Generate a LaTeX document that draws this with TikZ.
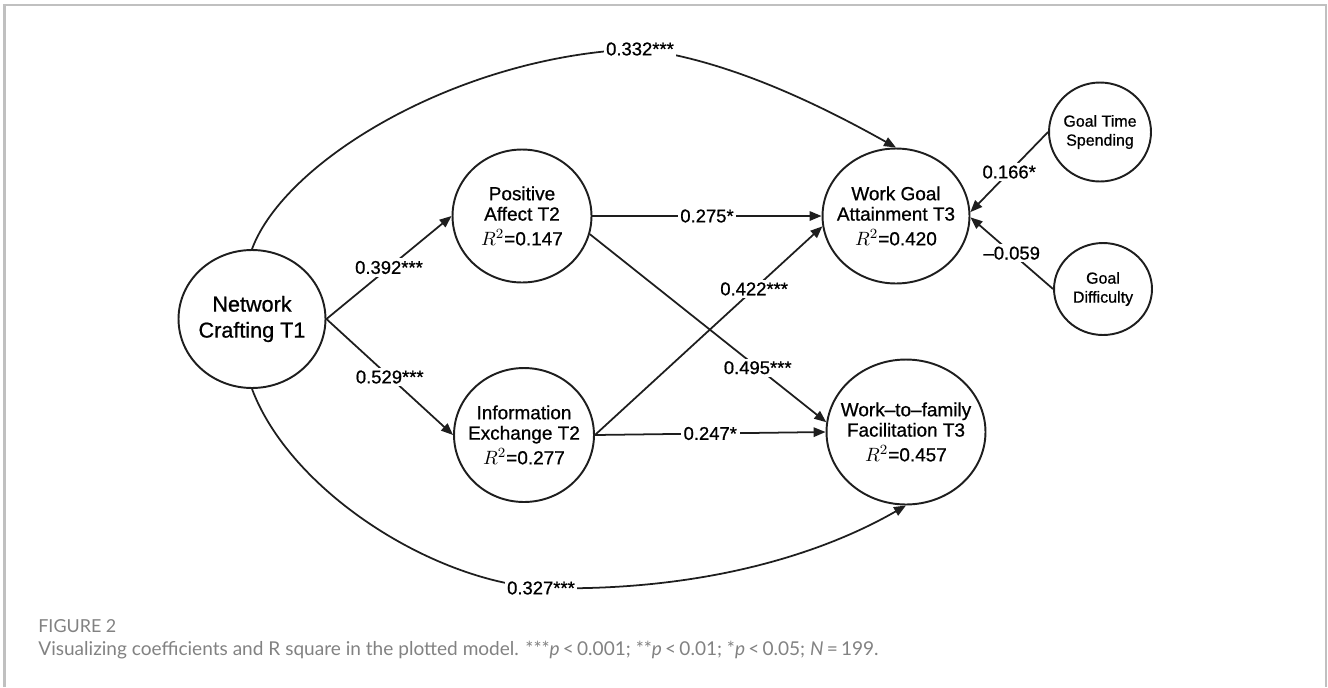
\documentclass[tikz,border=0pt]{standalone}
\usepackage{fontspec}
\setmainfont{Liberation Sans}
\newfontfamily\medfont[FakeBold=0.8, Ligatures=TeX]{Liberation Sans}
\newfontfamily\capfont{Lato}
\usetikzlibrary{arrows.meta, shapes.geometric}
\definecolor{ln}{RGB}{30,30,30}
\definecolor{frm}{RGB}{192,192,192}
\definecolor{capg}{RGB}{130,130,130}
\tikzset{
  var/.style={ellipse, draw=ln, line width=1.1pt, inner sep=0pt},
  % text inside the ellipses
  vtxt/.style={align=center, inner sep=0pt, font=\medfont\fontsize{10.8}{11.6}\selectfont},
  ar/.style={-{Triangle[length=0.24cm, width=0.19cm]}, line width=1pt, draw=ln},
  coef/.style={fill=white, inner sep=1.5pt, font=\medfont\fontsize{10.5}{12}\selectfont},
  frame/.style={draw=frm, line width=1.2pt},
  capt/.style={anchor=base west, inner sep=0pt, text=capg}
}

\begin{document}
\begin{tikzpicture}[x=0.02cm, y=-0.02cm]
  \useasboundingbox (0,0) rectangle (1328,687);
  \draw[frame] (4.5,687) -- (4.5,5) -- (1326,5) -- (1326,687);

  % latent variables
  \node[var, minimum width=2.94cm, minimum height=2.76cm,
        label={[vtxt, font=\medfont\fontsize{12.3}{14.8}\selectfont]center:Network\\Crafting T1}] (nc) at (252,319) {};
  \node[var, minimum width=2.78cm, minimum height=2.66cm,
        label={[vtxt]center:Positive\\Affect T2\\[2.5pt]$R^2$=0.147}] (pa) at (522,216) {};
  \node[var, minimum width=2.80cm, minimum height=2.68cm,
        label={[vtxt]center:Information\\Exchange T2\\[2.5pt]$R^2$=0.277}] (ie) at (524,435) {};
  \node[var, minimum width=2.94cm, minimum height=2.70cm,
        label={[vtxt]center:Work Goal\\Attainment T3\\[2.5pt]$R^2$=0.420}] (wg) at (896,216) {};
  \node[var, minimum width=3.18cm, minimum height=2.90cm,
        label={[vtxt]center:Work--to--family\\Facilitation T3\\[2.5pt]$R^2$=0.457}] (wtf) at (906,432) {};
  \node[var, minimum width=2.04cm, minimum height=1.98cm,
        label={[vtxt, font=\medfont\fontsize{9.1}{10.8}\selectfont]center:Goal Time\\Spending}] (gt) at (1100,132) {};
  \node[var, minimum width=1.96cm, minimum height=1.84cm,
        label={[vtxt, font=\medfont\fontsize{9.1}{10.8}\selectfont]center:Goal\\Difficulty}] (gd) at (1103,289) {};

  % paths
  \draw[ar] (nc.east) -- node[coef] {0.392***} (pa.west);
  \draw[ar] (nc.east) -- node[coef] {0.529***} (ie.west);
  \draw[ar] (pa.east) -- node[coef] {0.275*} (wg.west);
  \draw[ar] (pa.-15) -- node[coef, pos=0.71] {0.495***} (wtf.173);
  \draw[ar] (ie.east) -- node[coef, pos=0.7] {0.422***} (wg.188);
  \draw[ar] (ie.east) -- node[coef] {0.247*} (wtf.west);
  \draw[ar] (gt.west) -- node[coef] {0.166*} (wg.3);
  \draw[ar] (gd.west) -- node[coef] {--0.059} (wg.-1);
  \draw[ar] (nc.north) .. controls (285,160) and (460,55) .. (640,49) node[coef] {0.332***}
            .. controls (710,58) and (790,88) .. (wg.north);
  \draw[ar] (nc.south) .. controls (290,490) and (430,580) .. (541,588) node[coef] {0.327***}
            .. controls (700,592) and (820,555) .. (wtf.south);

  % caption
  \node[capt, font=\capfont\fontsize{10.2}{12}\selectfont] (fig) at (38,632) {FIGURE 2};
  \node[capt, font=\capfont\fontsize{10.85}{13}\selectfont] (cap) at (38,655)
    {Visualizing coefficients and R square in the plotted model. ***\textit{p}\,<\,0.001; **\textit{p}\,<\,0.01; *\textit{p}\,<\,0.05; \textit{N}\,=\,199.};
\end{tikzpicture}
\end{document}
